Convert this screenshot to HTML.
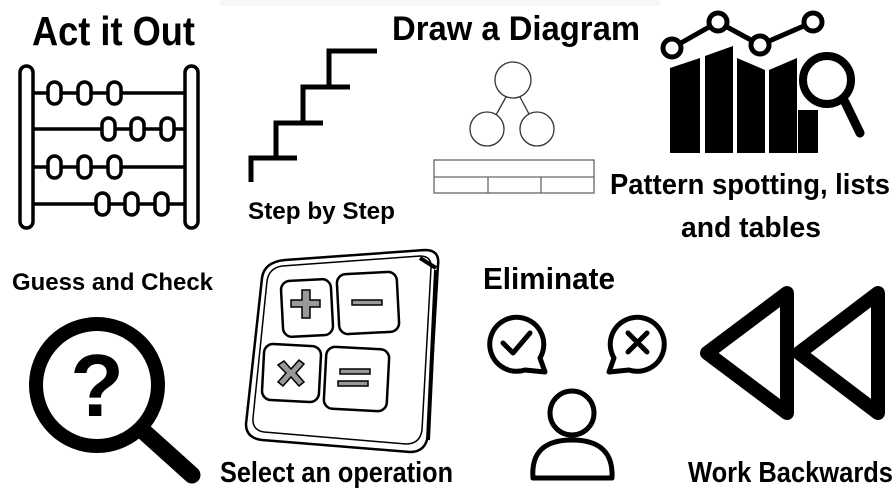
<!DOCTYPE html>
<html><head><meta charset="utf-8"><style>
html,body{margin:0;padding:0;background:#fff;width:895px;height:495px;overflow:hidden}
svg{display:block}
text{font-family:"Liberation Sans",sans-serif;font-weight:bold;fill:#000}
</style></head><body>
<svg width="895" height="495" viewBox="0 0 895 495" xmlns="http://www.w3.org/2000/svg">
<rect x="220" y="0" width="440" height="6" fill="#f7f7f7" rx="3"/>
<!-- Act it Out -->
<text x="32" y="45" font-size="41" textLength="163" lengthAdjust="spacingAndGlyphs">Act it Out</text>
<g fill="none" stroke="#000" stroke-width="3.5">
<rect x="20" y="66" width="13" height="162" rx="6.5"/>
<rect x="185" y="66" width="13" height="162" rx="6.5"/>
<line x1="33" y1="93" x2="185" y2="93"/>
<line x1="33" y1="129" x2="185" y2="129"/>
<line x1="33" y1="167" x2="185" y2="167"/>
<line x1="33" y1="204" x2="185" y2="204"/>
</g>
<g fill="#fff" stroke="#000" stroke-width="3.5">
<rect x="48" y="82" width="13" height="22" rx="6.5"/><rect x="78" y="82" width="13" height="22" rx="6.5"/><rect x="108" y="82" width="13" height="22" rx="6.5"/>
<rect x="102" y="118" width="13" height="22" rx="6.5"/><rect x="131" y="118" width="13" height="22" rx="6.5"/><rect x="161" y="118" width="13" height="22" rx="6.5"/>
<rect x="48" y="156" width="13" height="22" rx="6.5"/><rect x="78" y="156" width="13" height="22" rx="6.5"/><rect x="108" y="156" width="13" height="22" rx="6.5"/>
<rect x="96" y="193" width="13" height="22" rx="6.5"/><rect x="125" y="193" width="13" height="22" rx="6.5"/><rect x="155" y="193" width="13" height="22" rx="6.5"/>
</g>
<!-- Stairs -->
<path d="M251 182 V158 H297 M276 158 V123 H323 M303 123 V87 H350 M329 87 V51 H377" fill="none" stroke="#000" stroke-width="5"/>
<text x="248" y="219" font-size="24" textLength="147" lengthAdjust="spacingAndGlyphs">Step by Step</text>
<!-- Draw a Diagram -->
<text x="392" y="40" font-size="34" textLength="248" lengthAdjust="spacingAndGlyphs">Draw a Diagram</text>
<g fill="none" stroke="#333" stroke-width="1.3">
<circle cx="513" cy="80" r="18"/><circle cx="487" cy="129" r="17"/><circle cx="537" cy="129" r="17"/>
<line x1="506" y1="97" x2="496" y2="115"/><line x1="520" y1="97" x2="529" y2="114"/>
</g>
<g fill="none" stroke="#666" stroke-width="1.3">
<rect x="434" y="160" width="160" height="33"/><line x1="434" y1="177" x2="594" y2="177"/>
<line x1="488" y1="177" x2="488" y2="193"/><line x1="541" y1="177" x2="541" y2="193"/>
</g>
<!-- Chart -->
<g fill="#000">
<polygon points="670,68 700,58 700,153 670,153"/>
<polygon points="705,56 733,46 733,153 705,153"/>
<polygon points="737,58 765,70 765,153 737,153"/>
<polygon points="769,70 797,58 797,153 769,153"/>
<rect x="798" y="110" width="20" height="43"/>
</g>
<circle cx="827" cy="80" r="28" fill="#fff"/>
<g fill="none" stroke="#000" stroke-width="6" stroke-linecap="round">
<polyline points="672,48 718,22 760,45 813,22" stroke-width="5"/>
<circle cx="827" cy="80" r="24" stroke-width="8"/>
<line x1="845" y1="102" x2="860" y2="133" stroke-width="9"/>
</g>
<g fill="#fff" stroke="#000" stroke-width="5">
<circle cx="672" cy="48" r="9"/><circle cx="718" cy="22" r="9"/><circle cx="760" cy="45" r="9"/><circle cx="813" cy="22" r="9"/>
</g>
<text x="610" y="194" font-size="29" textLength="280" lengthAdjust="spacingAndGlyphs">Pattern spotting, lists</text>
<text x="681" y="237" font-size="29" textLength="140" lengthAdjust="spacingAndGlyphs">and tables</text>
<!-- Guess and Check -->
<text x="12" y="290" font-size="24" textLength="201" lengthAdjust="spacingAndGlyphs">Guess and Check</text>
<circle cx="97" cy="385" r="61" fill="none" stroke="#000" stroke-width="14"/>
<line x1="142" y1="430" x2="192" y2="475" stroke="#000" stroke-width="17" stroke-linecap="round"/>
<text x="97" y="416" font-size="88" text-anchor="middle">?</text>
<!-- Calculator -->
<g fill="none" stroke="#000" stroke-width="2.5" stroke-linejoin="round">
<path d="M285 260 L425 250 Q440 250 438 265 L428 435 Q426 452 410 452 L262 440 Q246 438 246 424 L262 278 Q264 262 285 260 Z"/>
<path d="M282 266 L420 256 Q432 256 431 268 L422 430 Q420 444 406 444 L264 432 Q252 430 253 418 L267 281 Q269 268 282 266 Z" stroke-width="1.5"/>
<path d="M420 258 L436 268 M428 440 L436 270" stroke-width="4"/>
<rect x="282" y="280" width="50" height="56" rx="9" transform="rotate(-3 307 308)"/>
<rect x="338" y="273" width="60" height="60" rx="9" transform="rotate(-3 368 303)"/>
<rect x="263" y="345" width="57" height="56" rx="9" transform="rotate(3 291 373)"/>
<rect x="325" y="348" width="63" height="62" rx="9" transform="rotate(3 356 379)"/>
</g>
<g fill="#999" stroke="#000" stroke-width="1.5">
<path d="M302 290 h8 v10 h10 v7 h-10 v11 h-8 v-11 h-11 v-7 h11 z"/>
<rect x="352" y="300" width="30" height="5"/>
<rect x="340" y="369" width="30" height="5"/><rect x="338" y="381" width="30" height="5"/>
<path d="M278 365 l6 -4 l7 8 l8 -9 l5 4 l-8 9 l8 9 l-5 4 l-8 -9 l-8 9 l-5 -4 l8 -9 z"/>
</g>
<text x="220" y="482" font-size="29" textLength="233" lengthAdjust="spacingAndGlyphs">Select an operation</text>
<!-- Eliminate -->
<text x="483" y="289" font-size="31" textLength="132" lengthAdjust="spacingAndGlyphs">Eliminate</text>
<g fill="none" stroke="#000" stroke-width="5" stroke-linecap="round" stroke-linejoin="round">
<path d="M540 358 A27 27 0 1 0 525 370 L545 372 Z"/>
<polyline points="503,343 513,353 530,333"/>
<path d="M614 358 A27 27 0 1 1 629 370 L609 372 Z"/>
<line x1="628" y1="333" x2="647" y2="352"/><line x1="647" y1="333" x2="628" y2="352"/>
<circle cx="572" cy="413" r="22"/>
<path d="M533 478 Q530 440 572 440 Q614 440 612 478 Z"/>
</g>
<!-- Work Backwards -->
<g fill="none" stroke="#000" stroke-width="14" stroke-linejoin="round" stroke-linecap="round">
<polygon points="707,353 787,293 787,413"/>
<polygon points="799,353 878,293 878,413"/>
</g>
<text x="688" y="482" font-size="29" textLength="205" lengthAdjust="spacingAndGlyphs">Work Backwards</text>
</svg>
</body></html>
